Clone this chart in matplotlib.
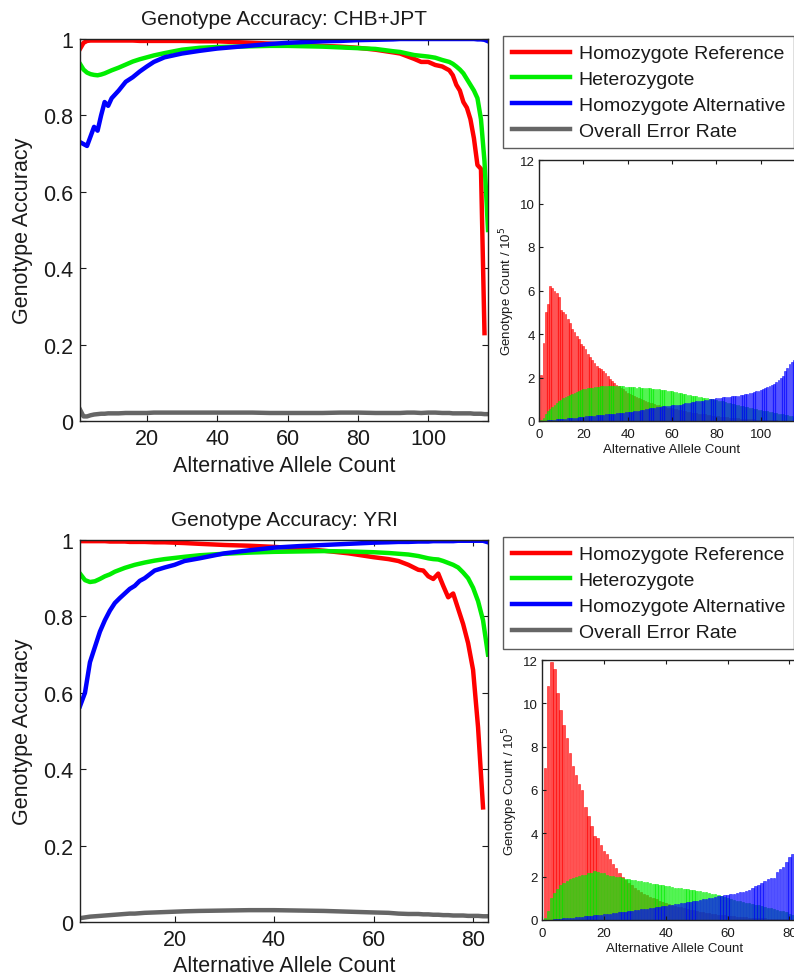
import matplotlib
matplotlib.use("Agg")
import matplotlib.pyplot as plt
import numpy as np

plt.rcParams["font.family"] = ["Liberation Sans", "DejaVu Sans"]
plt.rcParams["text.color"] = "#1a1a1a"
plt.rcParams["axes.labelcolor"] = "#1a1a1a"
plt.rcParams["xtick.color"] = "#1a1a1a"
plt.rcParams["ytick.color"] = "#1a1a1a"

SERIES = ["Homozygote Reference", "Heterozygote", "Homozygote Alternative", "Overall Error Rate"]
COLORS = ["#ff0000", "#00ee00", "#0000ff", "#666666"]

# ---- accuracy curves, CHB+JPT ----
chb_x = [1, 2, 3, 4, 5, 6, 7, 8, 9, 10, 12, 14, 16, 18, 20, 22, 25, 30, 35, 40, 45, 50,
         55, 60, 65, 70, 75, 80, 85, 90, 92, 94, 96, 98, 100, 102, 104, 106, 107, 108,
         109, 110, 111, 112, 113, 114, 115, 116, 117]
chb_homref = [0.974, 0.99, 0.995, 0.996, 0.996, 0.996, 0.996, 0.996, 0.996, 0.996, 0.996,
              0.996, 0.996, 0.995, 0.995, 0.995, 0.995, 0.995, 0.994, 0.994, 0.992, 0.99,
              0.988, 0.986, 0.984, 0.982, 0.98, 0.977, 0.972, 0.965, 0.962, 0.955, 0.948,
              0.94, 0.94, 0.932, 0.928, 0.918, 0.905, 0.88, 0.865, 0.835, 0.82, 0.79, 0.74,
              0.67, 0.66, 0.23, np.nan]
chb_het = [0.935, 0.92, 0.912, 0.908, 0.906, 0.905, 0.907, 0.91, 0.914, 0.918, 0.925,
           0.933, 0.941, 0.947, 0.952, 0.957, 0.963, 0.972, 0.977, 0.979, 0.98, 0.981,
           0.982, 0.982, 0.981, 0.98, 0.978, 0.976, 0.974, 0.968, 0.966, 0.962, 0.958,
           0.956, 0.954, 0.951, 0.945, 0.94, 0.935, 0.928, 0.92, 0.91, 0.895, 0.88, 0.865,
           0.845, 0.79, 0.68, 0.50]
chb_homalt = [0.73, 0.725, 0.72, 0.745, 0.77, 0.76, 0.80, 0.835, 0.825, 0.845, 0.865,
              0.888, 0.90, 0.915, 0.928, 0.94, 0.952, 0.962, 0.969, 0.975, 0.979, 0.983,
              0.987, 0.99, 0.992, 0.994, 0.995, 0.997, 0.998, 0.999, 1.0, 1.0, 1.0, 1.0,
              1.0, 1.0, 1.0, 1.0, 1.0, 1.0, 1.0, 1.0, 1.0, 1.0, 1.0, 0.999, 0.999, 0.998,
              0.994]
chb_error = [0.03, 0.012, 0.012, 0.015, 0.017, 0.018, 0.019, 0.019, 0.02, 0.02, 0.02,
             0.021, 0.021, 0.021, 0.021, 0.022, 0.022, 0.022, 0.022, 0.022, 0.022, 0.022,
             0.021, 0.021, 0.021, 0.021, 0.022, 0.022, 0.021, 0.021, 0.021, 0.022, 0.022,
             0.021, 0.022, 0.022, 0.021, 0.021, 0.02, 0.02, 0.02, 0.02, 0.02, 0.02, 0.019,
             0.019, 0.019, 0.018, 0.018]

# ---- accuracy curves, YRI ----
yri_x = [1, 2, 3, 4, 5, 6, 7, 8, 9, 10, 11, 12, 13, 14, 16, 18, 20, 22, 25, 30, 35, 40,
         45, 50, 55, 60, 63, 65, 67, 69, 70, 71, 72, 73, 74, 75, 76, 77, 78, 79, 80, 81,
         82, 83]
yri_homref = [0.997, 0.997, 0.997, 0.997, 0.997, 0.997, 0.996, 0.996, 0.996, 0.996,
              0.995, 0.995, 0.995, 0.995, 0.994, 0.994, 0.993, 0.992, 0.99, 0.987, 0.985,
              0.982, 0.978, 0.972, 0.965, 0.955, 0.95, 0.945, 0.935, 0.922, 0.92, 0.905,
              0.898, 0.912, 0.88, 0.85, 0.86, 0.82, 0.78, 0.73, 0.66, 0.51, 0.30, np.nan]
yri_het = [0.912, 0.895, 0.89, 0.892, 0.898, 0.905, 0.91, 0.917, 0.922, 0.927, 0.931,
           0.935, 0.938, 0.941, 0.946, 0.95, 0.953, 0.956, 0.96, 0.964, 0.967, 0.969,
           0.97, 0.971, 0.97, 0.968, 0.966, 0.964, 0.962, 0.958, 0.955, 0.952, 0.95,
           0.949, 0.945, 0.94, 0.935, 0.928, 0.915, 0.9, 0.875, 0.84, 0.79, 0.70]
yri_homalt = [0.565, 0.60, 0.68, 0.72, 0.76, 0.79, 0.815, 0.835, 0.848, 0.86, 0.872,
              0.88, 0.893, 0.90, 0.92, 0.928, 0.935, 0.945, 0.952, 0.965, 0.973, 0.98,
              0.984, 0.987, 0.99, 0.993, 0.994, 0.995, 0.995, 0.996, 0.996, 0.996, 0.997,
              0.997, 0.997, 0.997, 0.997, 0.998, 0.998, 0.998, 0.998, 0.998, 0.998, 0.994]
yri_error = [0.01, 0.012, 0.014, 0.015, 0.016, 0.017, 0.018, 0.019, 0.02, 0.021, 0.022,
             0.022, 0.023, 0.024, 0.025, 0.026, 0.027, 0.028, 0.029, 0.03, 0.031, 0.031,
             0.03, 0.029, 0.027, 0.025, 0.024, 0.022, 0.021, 0.021, 0.02, 0.02, 0.019,
             0.019, 0.018, 0.018, 0.017, 0.017, 0.017, 0.016, 0.016, 0.016, 0.015, 0.015]

# ---- genotype counts / 1e5, CHB+JPT (alt allele count 1..117) ----
chb_count_homref = [
    2.1, 3.6, 5.0, 5.4, 6.2, 6.1, 6.0, 5.9, 5.7, 5.1,
    5.0, 4.9, 4.7, 4.5, 4.25, 4.1, 3.9, 3.75, 3.55, 3.45,
    3.3, 3.1, 2.95, 2.8, 2.65, 2.55, 2.45, 2.4, 2.3, 2.2,
    2.05, 1.95, 1.85, 1.75, 1.65, 1.6, 1.5, 1.45, 1.4, 1.3,
    1.25, 1.2, 1.15, 1.1, 1.05, 1.0, 0.96, 0.92, 0.88, 0.85,
    0.82, 0.78, 0.75, 0.72, 0.7, 0.67, 0.64, 0.62, 0.6, 0.58,
    0.55, 0.53, 0.51, 0.49, 0.47, 0.45, 0.43, 0.41, 0.39, 0.38,
    0.36, 0.34, 0.33, 0.31, 0.3, 0.28, 0.27, 0.25, 0.24, 0.22,
    0.21, 0.2, 0.19, 0.18, 0.17, 0.16, 0.15, 0.14, 0.13, 0.12,
    0.11, 0.1, 0.1, 0.09, 0.08, 0.08, 0.07, 0.06, 0.06, 0.05,
    0.05, 0.04, 0.04, 0.04, 0.03, 0.03, 0.03, 0.02, 0.02, 0.02,
    0.02, 0.01, 0.01, 0.01, 0.01, 0.01, 0.01]
chb_count_het = [
    0.05, 0.15, 0.3, 0.45, 0.55, 0.65, 0.75, 0.85, 0.9, 0.97,
    1.05, 1.1, 1.15, 1.2, 1.25, 1.3, 1.35, 1.38, 1.42, 1.45,
    1.48, 1.5, 1.52, 1.54, 1.55, 1.57, 1.58, 1.6, 1.6, 1.62,
    1.62, 1.63, 1.62, 1.63, 1.62, 1.6, 1.61, 1.6, 1.58, 1.57,
    1.57, 1.55, 1.56, 1.54, 1.55, 1.53, 1.52, 1.52, 1.5, 1.5,
    1.48, 1.47, 1.47, 1.45, 1.44, 1.43, 1.42, 1.4, 1.38, 1.36,
    1.35, 1.32, 1.3, 1.28, 1.25, 1.23, 1.21, 1.19, 1.17, 1.15,
    1.14, 1.12, 1.1, 1.08, 1.06, 1.04, 1.02, 1.0, 0.98, 0.96,
    0.94, 0.92, 0.9, 0.88, 0.85, 0.83, 0.8, 0.78, 0.75, 0.72,
    0.7, 0.68, 0.65, 0.63, 0.6, 0.58, 0.56, 0.54, 0.52, 0.5,
    0.48, 0.46, 0.44, 0.42, 0.4, 0.38, 0.36, 0.34, 0.32, 0.3,
    0.28, 0.26, 0.24, 0.22, 0.2, 0.18, 0.15]
chb_count_homalt = [
    0.0, 0.01, 0.02, 0.03, 0.04, 0.05, 0.06, 0.07, 0.08, 0.09,
    0.1, 0.11, 0.12, 0.13, 0.14, 0.15, 0.16, 0.17, 0.18, 0.2,
    0.21, 0.22, 0.23, 0.24, 0.25, 0.26, 0.27, 0.28, 0.29, 0.3,
    0.31, 0.32, 0.33, 0.34, 0.35, 0.36, 0.37, 0.38, 0.4, 0.41,
    0.42, 0.43, 0.45, 0.46, 0.48, 0.5, 0.52, 0.54, 0.56, 0.58,
    0.6, 0.62, 0.63, 0.65, 0.66, 0.67, 0.68, 0.7, 0.7, 0.72,
    0.72, 0.73, 0.74, 0.75, 0.8, 0.82, 0.84, 0.85, 0.86, 0.88,
    0.9, 0.92, 0.93, 0.94, 0.96, 0.98, 0.99, 1.0, 1.02, 1.04,
    1.06, 1.08, 1.1, 1.12, 1.1, 1.12, 1.14, 1.14, 1.15, 1.16,
    1.18, 1.2, 1.22, 1.25, 1.28, 1.3, 1.33, 1.36, 1.4, 1.44,
    1.48, 1.52, 1.56, 1.6, 1.66, 1.72, 1.8, 1.88, 1.96, 2.05,
    2.3, 2.45, 2.6, 2.7, 2.8, 3.0, 3.3]

# ---- genotype counts / 1e5, YRI (alt allele count 1..82) ----
yri_count_homref = [
    7.0, 10.8, 11.9, 11.6, 10.5, 9.7, 9.0, 8.4, 7.7, 7.1,
    6.7, 6.3, 6.0, 5.2, 4.8, 4.35, 3.9, 3.8, 3.45, 3.2,
    3.05, 2.8, 2.6, 2.4, 2.15, 2.0, 1.85, 1.7, 1.6, 1.5,
    1.4, 1.3, 1.22, 1.15, 1.08, 1.0, 0.95, 0.9, 0.85, 0.8,
    0.75, 0.7, 0.66, 0.62, 0.58, 0.54, 0.5, 0.47, 0.44, 0.41,
    0.38, 0.36, 0.33, 0.31, 0.29, 0.27, 0.25, 0.23, 0.21, 0.2,
    0.18, 0.17, 0.15, 0.14, 0.13, 0.12, 0.11, 0.1, 0.09, 0.08,
    0.07, 0.07, 0.06, 0.05, 0.05, 0.04, 0.04, 0.03, 0.03, 0.02,
    0.02, 0.02]
yri_count_het = [
    0.1, 0.4, 1.0, 1.25, 1.45, 1.6, 1.7, 1.8, 1.9, 1.95,
    2.0, 2.05, 2.1, 2.1, 2.15, 2.15, 2.25, 2.2, 2.15, 2.15,
    2.1, 2.05, 2.05, 2.0, 2.0, 1.95, 1.9, 1.9, 1.85, 1.85,
    1.8, 1.8, 1.75, 1.75, 1.7, 1.68, 1.65, 1.63, 1.6, 1.58,
    1.55, 1.52, 1.5, 1.48, 1.46, 1.44, 1.42, 1.4, 1.38, 1.36,
    1.33, 1.3, 1.28, 1.25, 1.22, 1.2, 1.15, 1.1, 1.05, 1.0,
    0.97, 0.94, 0.9, 0.87, 0.84, 0.8, 0.77, 0.74, 0.7, 0.67,
    0.63, 0.6, 0.57, 0.54, 0.5, 0.47, 0.43, 0.4, 0.35, 0.3,
    0.25, 0.2]
yri_count_homalt = [
    0.0, 0.01, 0.02, 0.03, 0.04, 0.05, 0.07, 0.08, 0.1, 0.11,
    0.12, 0.14, 0.15, 0.17, 0.18, 0.2, 0.22, 0.23, 0.25, 0.27,
    0.28, 0.3, 0.32, 0.34, 0.35, 0.37, 0.39, 0.41, 0.43, 0.45,
    0.47, 0.49, 0.51, 0.53, 0.55, 0.57, 0.59, 0.61, 0.63, 0.66,
    0.68, 0.7, 0.72, 0.74, 0.77, 0.8, 0.82, 0.85, 0.88, 0.9,
    0.93, 0.95, 0.98, 1.0, 1.03, 1.06, 1.1, 1.12, 1.14, 1.16,
    1.18, 1.2, 1.23, 1.27, 1.3, 1.35, 1.4, 1.47, 1.55, 1.62,
    1.7, 1.8, 1.88, 1.95, 1.95, 2.2, 2.35, 2.45, 2.7, 2.9,
    3.05, 3.2]

W, H = 794, 978


def fig_rect(left, top, width, height):
    # pixel box -> figure fraction
    return [left / W, 1 - (top + height) / H, width / W, height / H]


def draw_accuracy(ax, x, curves, xlim, xticks, title):
    lines = []
    for values, color in zip(curves, COLORS):
        (ln,) = ax.plot(x, values, color=color, linewidth=3.2, solid_joinstyle="round")
        lines.append(ln)
    ax.set_xlim(*xlim)
    ax.set_ylim(0, 1)
    ax.set_xticks(xticks)
    ax.set_yticks([0, 0.2, 0.4, 0.6, 0.8, 1.0])
    ax.set_yticklabels(["0", "0.2", "0.4", "0.6", "0.8", "1"])
    ax.tick_params(direction="in", top=True, right=True, length=4, width=0.8,
                   labelsize=15.5, pad=5)
    for spine in ax.spines.values():
        spine.set_linewidth(1.0)
        spine.set_color("#222222")
    ax.set_title(title, fontsize=15, pad=11)
    ax.set_xlabel("Alternative Allele Count", fontsize=15.5, labelpad=4)
    ax.set_ylabel("Genotype Accuracy", fontsize=15.5)
    ax.yaxis.set_label_coords(-0.114, 0.5)
    return lines


def draw_counts(ax, counts, xlim):
    for values, color in zip(counts, COLORS[:3]):
        pos = np.arange(1, len(values) + 1)
        ax.bar(pos, values, width=0.8, color=color, alpha=0.7,
               edgecolor=color, linewidth=0.5)
    ax.set_xlim(*xlim)
    ax.set_ylim(0, 12)
    ax.set_xticks(np.arange(0, xlim[1], 20))
    ax.set_yticks(np.arange(0, 13, 2))
    ax.tick_params(direction="in", top=True, right=True, length=3, width=0.8,
                   labelsize=9.5, pad=3)
    ax.tick_params(axis="x", pad=5)
    for spine in ax.spines.values():
        spine.set_linewidth(1.0)
        spine.set_color("#222222")
    ax.set_xlabel("Alternative Allele Count", fontsize=9.5, labelpad=2)
    ax.set_ylabel("Genotype Count / 10$^5$", fontsize=9.5, labelpad=2)


fig = plt.figure(figsize=(W / 100, H / 100), dpi=100)

ax_top = fig.add_axes(fig_rect(80, 40, 408, 382))
lines = draw_accuracy(ax_top, chb_x, [chb_homref, chb_het, chb_homalt, chb_error],
                      (1, 117), [20, 40, 60, 80, 100], "Genotype Accuracy: CHB+JPT")

ax_bot = fig.add_axes(fig_rect(80, 541, 408, 382))
draw_accuracy(ax_bot, yri_x, [yri_homref, yri_het, yri_homalt, yri_error],
              (1, 83), [20, 40, 60, 80], "Genotype Accuracy: YRI")

ins_top = fig.add_axes(fig_rect(539, 161, 266, 261))
draw_counts(ins_top, [chb_count_homref, chb_count_het, chb_count_homalt], (0, 120))

ins_bot = fig.add_axes(fig_rect(542, 661, 266, 260))
draw_counts(ins_bot, [yri_count_homref, yri_count_het, yri_count_homalt], (0, 86))

for top in (37, 538):
    leg = fig.legend(lines, SERIES, loc="upper left",
                     bbox_to_anchor=(503 / W, 1 - top / H), fontsize=14,
                     frameon=True, fancybox=False, handlelength=3.0,
                     handletextpad=0.45, labelspacing=0.42, borderpad=0.45,
                     borderaxespad=0)
    leg.get_frame().set_edgecolor("#333333")
    leg.get_frame().set_linewidth(1.0)
    for ln in leg.get_lines():
        ln.set_linewidth(3.2)

fig.savefig("out.png", dpi=100)
